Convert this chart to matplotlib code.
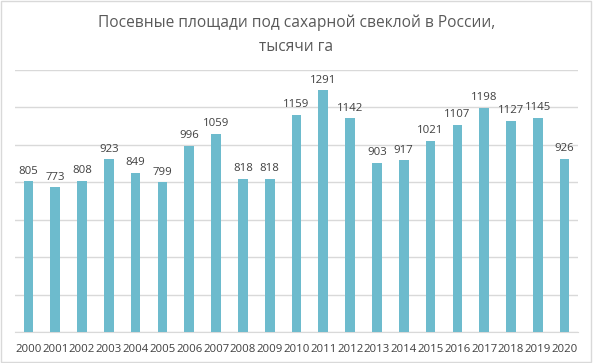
import matplotlib
matplotlib.use("Agg")
import matplotlib.pyplot as plt
from matplotlib.patches import Rectangle

years = [str(y) for y in range(2000, 2021)]
values = [805, 773, 808, 923, 849, 799, 996, 1059, 818, 818, 1159, 1291,
          1142, 903, 917, 1021, 1107, 1198, 1127, 1145, 926]
title = "Посевные площади под сахарной свеклой в России,\nтысячи га"

plt.rcParams['font.family'] = ['Open Sans', 'DejaVu Sans']
fig = plt.figure(figsize=(5.93, 3.63), dpi=100)
ax = fig.add_axes([15/593, 1 - 332/363, (578-15)/593, (332-70)/363])

x = range(len(years))
bars = ax.bar(x, values, width=0.36, color='#6DBBCD', zorder=3)
for xi, v in zip(x, values):
    ax.text(xi, v + 25, str(v), ha='center', va='bottom', fontsize=8.2, color='#404040')

ax.set_xlim(-0.5, len(years) - 0.5)
ax.set_ylim(0, 1400)
ax.set_yticks(range(0, 1401, 200))
ax.yaxis.grid(True, color='#D9D9D9', linewidth=1, zorder=0)
ax.tick_params(axis='y', left=False, labelleft=False)
ax.set_xticks(list(x))
ax.set_xticklabels(years, fontsize=8.2, color='#404040')
ax.tick_params(axis='x', length=0, pad=8.5)
for s in ['top', 'right', 'left']:
    ax.spines[s].set_visible(False)
ax.spines['bottom'].set_color('#D9D9D9')

fig.text(0.5, 1 - 35/363, title, ha='center', va='center', fontsize=11.2, color='#595959',
         linespacing=1.65)

fig.patches.append(Rectangle((0.002, 0.003), 0.995, 0.993, transform=fig.transFigure,
                             fill=False, edgecolor='#D9D9D9', linewidth=1))

fig.savefig('out.png', dpi=100)
